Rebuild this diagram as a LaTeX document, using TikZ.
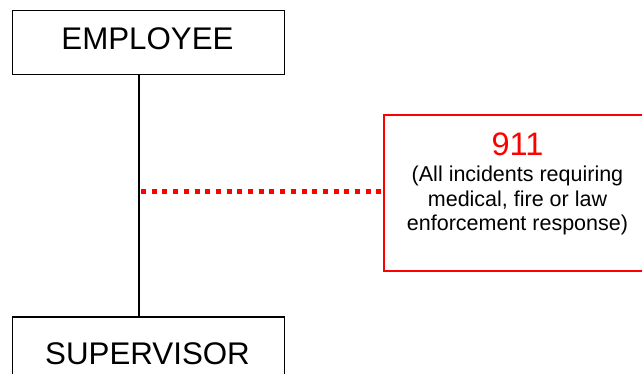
\documentclass[tikz,border=0pt]{standalone}
\usepackage{fontspec}
\setmainfont{Liberation Sans}
\begin{document}
\begin{tikzpicture}[x=1pt,y=-1pt,
  bigbox/.style={draw=black,line width=1.5pt,fill=white},
  redbox/.style={draw=red,line width=2pt,fill=white},
  bigtext/.style={font=\fontsize{31.3}{36}\selectfont},
  smalltext/.style={font=\fontsize{21.5}{24}\selectfont,align=center,inner sep=0pt}]
\useasboundingbox (0,0) rectangle (642,374);
\path[fill=white] (0,0) rectangle (642,374);
\node[bigbox,minimum width=272pt,minimum height=64pt,anchor=north west,inner sep=0pt] (emp) at (11.5,10) {};
\node[bigtext,anchor=base] (empt) at (147.5,50) {EMPLOYEE};
\node[bigbox,minimum width=272pt,minimum height=80pt,anchor=north west,inner sep=0pt] (sup) at (11.5,316) {};
\node[bigtext,anchor=base] (supt) at (147.5,364) {SUPERVISOR};
\node[redbox,minimum width=270pt,minimum height=156pt,anchor=north west,inner sep=0pt] (nine) at (383,114) {};
\node[font=\fontsize{32.5}{36}\selectfont,text=red,anchor=base,inner sep=0pt] (ninet) at (517.5,156) {911};
\node[smalltext,anchor=base] (l1) at (517.5,181.7) {(All incidents requiring};
\node[smalltext,anchor=base] (l2) at (517.5,206) {medical, fire or law};
\node[smalltext,anchor=base] (l3) at (517.5,230) {enforcement response)};
\draw[line width=2pt] (emp.south -| 139,0) -- (sup.north -| 139,0);
\coordinate (dl) at (139,192);
\draw[red,line width=5pt,dash pattern=on 5pt off 5.7pt,dash phase=-2pt] (dl) -- (nine.west |- dl);
\end{tikzpicture}
\end{document}
